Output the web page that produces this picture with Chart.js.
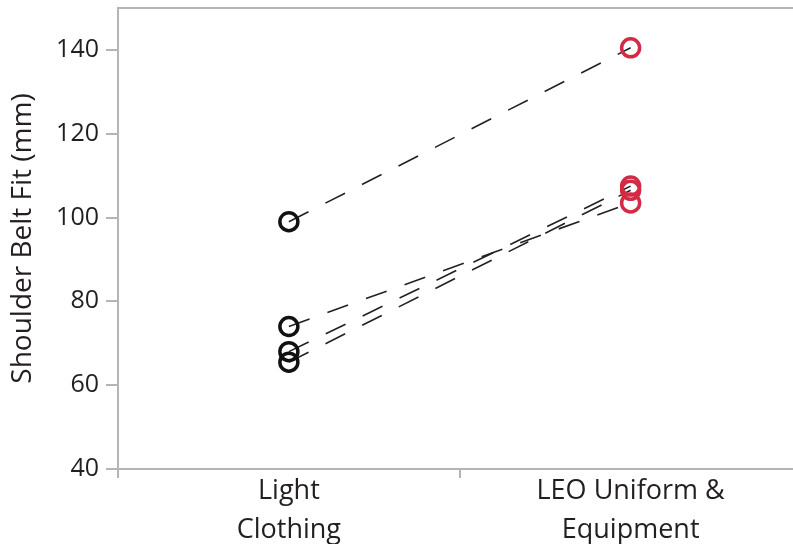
<!DOCTYPE html>
<html>
<head>
<meta charset="utf-8">
<script src="https://cdn.jsdelivr.net/npm/chart.js@4/dist/chart.umd.min.js"></script>
<style>
  html, body { margin: 0; padding: 0; background: #fff; overflow: hidden; }
  #wrap { width: 793px; height: 544px; overflow: hidden; }
  #c { display: block; margin-top: -14px; }
</style>
</head>
<body>
<div id="wrap"><canvas id="c" width="814" height="558"></canvas></div>
<script>
// Conditions on the x axis
const conditions = [["Light", "Clothing"], ["LEO Uniform &", "Equipment"]];
// Shoulder belt fit (mm) per participant: light clothing -> uniform & equipment
const lightClothing = [99, 74, 68, 65.5];
const leoUniform = [140.5, 103.5, 107.5, 106.5];
const yTicks = [40, 60, 80, 100, 120, 140];

const conditionColors = ["#111111", "#d42a44"];
const axisGrey = "#b5b5b5";
const fontFamily = "'Open Sans', 'Noto Sans', sans-serif";

const datasets = lightClothing.map((v, i) => ({
  label: "P" + (i + 1),
  data: [v, leoUniform[i]],
  borderColor: "#222222",
  borderWidth: 1.6,
  borderDash: [22, 19],
  pointStyle: "circle",
  pointRadius: 9,
  pointBorderWidth: 3.5,
  pointBackgroundColor: "rgba(255,255,255,0)",
  pointBorderColor: conditionColors,
  fill: false,
  tension: 0
}));

// Grey frame line along the top of the plot area
const topFrame = {
  id: "topFrame",
  afterDraw(chart) {
    const { ctx, chartArea } = chart;
    ctx.save();
    ctx.strokeStyle = axisGrey;
    ctx.lineWidth = 2;
    ctx.beginPath();
    ctx.moveTo(chartArea.left - 1, chartArea.top);
    ctx.lineTo(chartArea.right + 10, chartArea.top);
    ctx.stroke();
    ctx.restore();
  }
};

new Chart(document.getElementById("c"), {
  type: "line",
  data: { labels: conditions, datasets },
  plugins: [topFrame],
  options: {
    responsive: false,
    animation: false,
    layout: { padding: { top: 8, right: 0, left: 0, bottom: 0 } },
    plugins: { legend: { display: false }, tooltip: { enabled: false } },
    scales: {
      x: {
        type: "category",
        offset: true,
        grid: {
          display: true,
          offset: true,
          drawOnChartArea: false,
          drawTicks: true,
          tickLength: 9,
          color: axisGrey,
          lineWidth: 2
        },
        border: { display: true, color: axisGrey, width: 2 },
        ticks: {
          color: "#231f20",
          font: { family: fontFamily, size: 27, lineHeight: 1.45 },
          padding: -6,
          maxRotation: 0,
          autoSkip: false
        },
        afterFit(scale) { scale.height = 75; }
      },
      y: {
        min: 40,
        max: 150,
        afterBuildTicks(scale) { scale.ticks = yTicks.map(v => ({ value: v })); },
        grid: {
          display: true,
          drawOnChartArea: false,
          drawTicks: true,
          tickLength: 12,
          color: axisGrey,
          lineWidth: 2
        },
        border: { display: true, color: axisGrey, width: 2 },
        ticks: {
          color: "#231f20",
          font: { family: fontFamily, size: 25 },
          padding: 7
        },
        title: {
          display: true,
          text: "Shoulder Belt Fit (mm)",
          color: "#231f20",
          font: { family: fontFamily, size: 28 },
          padding: { top: 6, bottom: 4 }
        },
        afterFit(scale) { scale.width = 118; }
      }
    }
  }
});
</script>
</body>
</html>
